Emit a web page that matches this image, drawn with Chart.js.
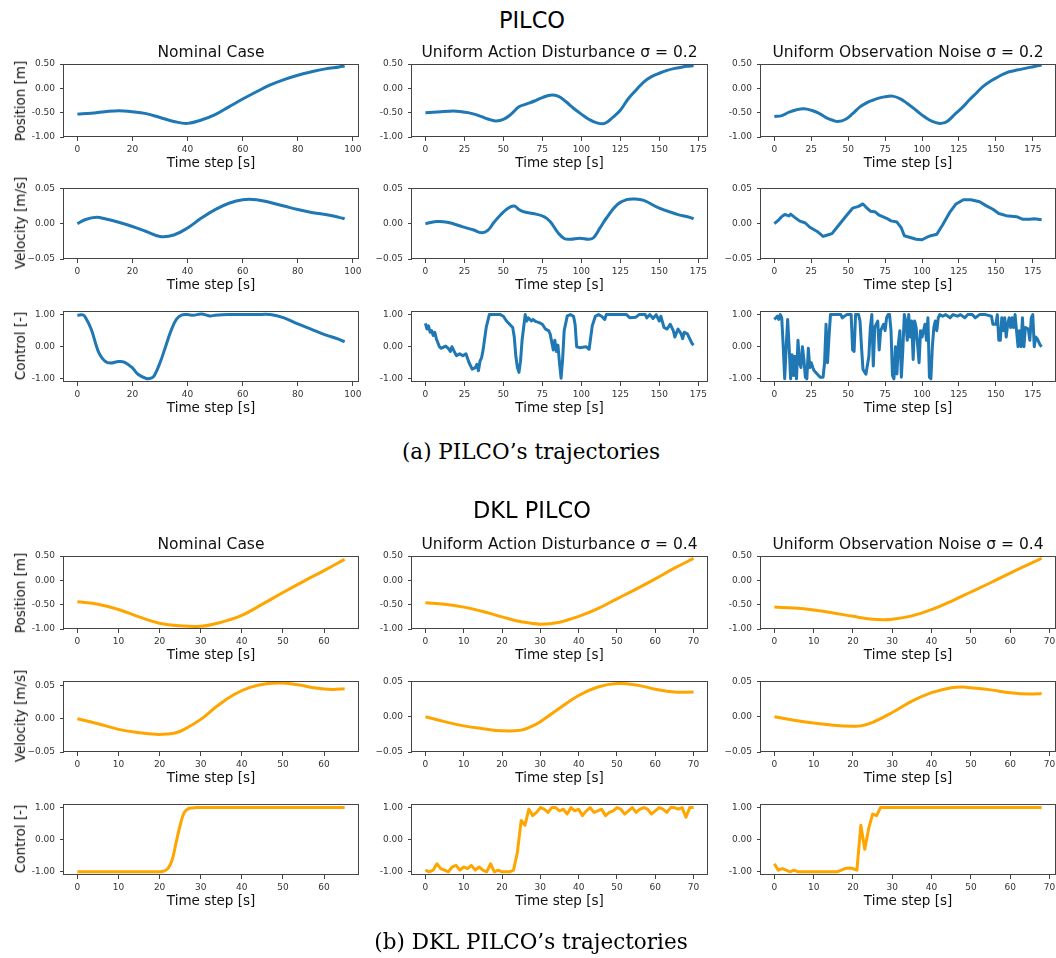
<!DOCTYPE html>
<html>
<head>
<meta charset="utf-8">
<script src="https://cdn.jsdelivr.net/npm/chart.js@4.4.0/dist/chart.umd.min.js"></script>
<style>
  body { margin: 0; background: #fff; width: 1056px; height: 958px; position: relative; overflow: hidden; font-family: "DejaVu Sans", sans-serif; }
  canvas { position: absolute; }
  .txt { position: absolute; white-space: nowrap; line-height: 1.2; color: #000; transform: translate(-50%, -50%); }
  .head { font-size: 22.5px; }
  .cap { font-family: "DejaVu Serif", serif; font-size: 21.5px; }
  .ylab { font-size: 13.5px; color: #111; transform: translate(-50%, -50%) rotate(-90deg); }
</style>
</head>
<body>
<script>
const C0 = '#1f77b4';
const ORANGE = '#ffa500';
const FONT = '"DejaVu Sans", sans-serif';

// ---------- PILCO: nominal ----------
const pNomPosT  = [0, 5, 10, 15, 20, 25, 30, 35, 40, 45, 50, 55, 60, 65, 70, 75, 80, 85, 90, 95, 97];
const pNomPos   = [-0.53, -0.51, -0.48, -0.46, -0.48, -0.52, -0.60, -0.68, -0.72, -0.65, -0.54, -0.38, -0.22, -0.07, 0.07, 0.18, 0.27, 0.34, 0.40, 0.44, 0.46];
const pNomVelT  = [0, 3, 7, 10, 15, 20, 25, 30, 35, 40, 45, 50, 55, 60, 65, 70, 75, 80, 85, 90, 95, 97];
const pNomVel   = [0, 0.006, 0.009, 0.007, 0.002, -0.004, -0.011, -0.018, -0.016, -0.006, 0.008, 0.020, 0.029, 0.034, 0.034, 0.030, 0.025, 0.020, 0.016, 0.013, 0.009, 0.007];
const pNomCtrlT = [0, 2, 3, 5, 7, 8, 10, 12, 15, 17, 20, 22, 25, 27, 28, 30, 32, 34, 36, 38, 40, 42, 45, 48, 50, 55, 60, 65, 70, 75, 80, 85, 90, 95, 97];
const pNomCtrl  = [0.98, 0.99, 0.9, 0.55, 0.0, -0.22, -0.45, -0.51, -0.46, -0.48, -0.66, -0.86, -0.99, -0.97, -0.89, -0.5, 0.0, 0.5, 0.86, 0.99, 1.0, 0.98, 1.02, 0.96, 0.98, 1.0, 1.0, 1.0, 1.0, 0.9, 0.71, 0.54, 0.37, 0.23, 0.15];

// ---------- PILCO: uniform action disturbance 0.2 ----------
const pActPosT  = [0, 5, 10, 15, 20, 25, 30, 35, 40, 45, 50, 55, 60, 65, 70, 75, 80, 85, 90, 95, 100, 105, 110, 115, 120, 125, 130, 135, 140, 145, 150, 155, 160, 165, 170, 172];
const pActPos   = [-0.50, -0.49, -0.48, -0.47, -0.47, -0.49, -0.52, -0.57, -0.63, -0.67, -0.64, -0.53, -0.38, -0.32, -0.26, -0.19, -0.14, -0.16, -0.27, -0.41, -0.53, -0.64, -0.71, -0.72, -0.60, -0.45, -0.22, -0.04, 0.13, 0.24, 0.31, 0.37, 0.41, 0.44, 0.46, 0.47];
const pActVelT  = [0, 7, 14, 24, 31, 36, 40, 44, 48, 53, 57, 60, 63, 69, 76, 80, 85, 89, 93, 99, 105, 108, 112, 116, 123, 129, 134, 140, 150, 161, 170, 172];
const pActVel   = [0, 0.003, 0.002, -0.0045, -0.009, -0.0127, -0.0095, 0.002, 0.012, 0.022, 0.025, 0.020, 0.017, 0.0145, 0.010, 0.003, -0.0127, -0.021, -0.022, -0.0205, -0.022, -0.0195, -0.006, 0.0077, 0.027, 0.034, 0.035, 0.033, 0.022, 0.0136, 0.0086, 0.0068];
const pActCtrlT = [0, 1, 2, 3, 4, 5, 6, 7, 9, 10, 13, 15, 16, 17, 19, 20, 22, 24, 26, 28, 30, 32, 33, 34, 35, 36, 37, 39, 41, 44, 46, 48, 50, 52, 54, 56, 57, 58, 59, 60, 61, 62, 63, 64, 65, 66, 68, 69, 71, 73, 75, 77, 79, 80, 82, 83, 84, 85, 86, 87, 88, 89, 91, 93, 95, 96, 97, 99, 103, 105, 107, 109, 111, 113, 115, 116, 120, 125, 129, 131, 135, 137, 141, 142, 144, 146, 148, 150, 151, 153, 155, 157, 159, 160, 162, 164, 165, 166, 168, 171, 172];
const pActCtrl  = [0.73, 0.55, 0.65, 0.45, 0.5, 0.35, 0.45, 0.25, 0.0, -0.05, 0.02, -0.07, -0.15, 0.0, -0.2, -0.28, -0.22, -0.28, -0.22, -0.5, -0.7, -0.65, -0.55, -0.75, -0.45, -0.35, -0.1, 0.6, 1.0, 1.0, 1.0, 1.0, 0.95, 0.8, 0.7, 0.6, 0.3, -0.3, -0.65, -0.8, -0.45, 0.2, 0.6, 1.0, 0.8, 0.9, 0.8, 0.85, 0.78, 0.75, 0.7, 0.55, 0.5, 0.4, -0.1, 0.2, -0.15, 0.05, -0.5, -0.98, -0.4, 0.5, 0.96, 1.0, 0.95, 0.7, 0.0, -0.03, 0.0, -0.08, 0.65, 0.95, 1.0, 0.95, 0.85, 1.0, 1.0, 1.0, 1.0, 0.9, 0.92, 1.0, 1.0, 0.9, 1.0, 0.88, 1.0, 0.8, 0.95, 0.6, 0.55, 0.7, 0.5, 0.3, 0.55, 0.4, 0.25, 0.45, 0.4, 0.1, 0.05];

// ---------- PILCO: uniform observation noise 0.2 ----------
const pObsPosT  = [0, 5, 10, 15, 20, 25, 30, 35, 40, 43, 48, 53, 58, 63, 67, 72, 76, 80, 85, 90, 96, 100, 105, 110, 113, 117, 123, 128, 132, 137, 141, 146, 150, 155, 159, 165, 170, 176, 181];
const pObsPos   = [-0.58, -0.56, -0.49, -0.44, -0.42, -0.45, -0.51, -0.60, -0.66, -0.68, -0.64, -0.52, -0.38, -0.29, -0.24, -0.19, -0.17, -0.16, -0.21, -0.31, -0.45, -0.55, -0.65, -0.71, -0.72, -0.68, -0.51, -0.37, -0.24, -0.09, 0.03, 0.14, 0.21, 0.29, 0.34, 0.38, 0.41, 0.45, 0.48];
const pObsVelT  = [0, 3, 5, 7, 10, 11, 14, 17, 21, 24, 29, 33, 36, 39, 43, 49, 53, 57, 60, 62, 65, 68, 71, 76, 79, 83, 86, 88, 92, 96, 100, 103, 106, 110, 114, 119, 123, 128, 133, 139, 143, 148, 152, 157, 164, 168, 173, 176, 181];
const pObsVel   = [0, 0.0055, 0.01, 0.013, 0.011, 0.0136, 0.0086, 0.004, 0.001, -0.005, -0.011, -0.018, -0.016, -0.014, -0.0036, 0.012, 0.022, 0.0245, 0.028, 0.0236, 0.0177, 0.017, 0.012, 0.0077, 0.004, 0.0023, -0.006, -0.017, -0.0195, -0.022, -0.0227, -0.0195, -0.017, -0.015, -0.0014, 0.0168, 0.028, 0.034, 0.034, 0.031, 0.026, 0.0205, 0.0145, 0.0114, 0.01, 0.0064, 0.0064, 0.007, 0.0055];
const pObsCtrlT = [0, 2, 3, 4, 5, 6, 7, 8, 9, 10, 11, 12, 13, 14, 15, 16, 17, 18, 19, 20, 21, 22, 23, 24, 25, 26, 27, 29, 31, 33, 34, 35, 36, 37, 38, 41, 45, 46, 49, 52, 53, 54, 55, 57, 58, 59, 60, 62, 64, 65, 66, 67, 68, 70, 71, 72, 74, 75, 76, 77, 78, 79, 80, 81, 82, 83, 84, 85, 86, 87, 88, 89, 90, 91, 92, 93, 94, 95, 96, 98, 99, 100, 102, 103, 104, 105, 106, 107, 108, 109, 110, 111, 112, 114, 116, 119, 121, 124, 126, 129, 131, 134, 136, 139, 143, 147, 148, 150, 151, 152, 153, 154, 155, 156, 157, 158, 159, 160, 161, 162, 163, 165, 166, 167, 168, 169, 170, 172, 173, 174, 175, 176, 177, 178, 180, 181];
const pObsCtrl  = [0.85, 0.95, 0.85, 1.0, 0.9, 0.0, -1.0, 0.0, 0.85, 0.0, -1.0, -0.25, -0.9, -0.3, -1.0, 0.2, -0.5, -0.65, 0.0, -0.4, -0.95, -1.0, -0.05, -0.65, -0.5, -0.65, -0.75, -0.85, -0.95, -0.95, -0.5, 0.7, -0.5, 0.3, 1.0, 1.0, 1.0, 0.9, 1.0, 1.0, -0.1, -0.15, 1.0, 1.0, 0.8, 0.0, -0.7, -0.86, -0.3, 0.6, 1.0, -0.6, 0.6, 0.8, -0.1, 0.5, 0.7, 0.5, 0.9, 1.0, 1.0, 0.5, -0.9, -1.0, 0.0, -0.85, 0.1, 0.5, -0.95, -0.1, 1.0, 0.8, 0.2, 1.0, 0.3, 0.8, -0.4, 0.8, 0.6, -0.5, 0.5, 0.3, 0.7, 0.2, 0.9, -0.95, -1.0, 0.0, 0.6, 0.8, 0.5, 0.9, 1.0, 0.95, 1.0, 0.9, 1.0, 0.95, 1.0, 0.9, 1.0, 1.0, 0.9, 1.0, 1.0, 0.95, 0.7, 0.7, 1.0, 0.2, 0.2, 0.9, 0.5, 0.9, 0.3, 0.7, 0.9, 0.6, 0.9, 0.6, 1.0, 0.0, 0.5, 0.0, 0.9, 0.0, 0.6, 0.55, 0.2, 0.9, 1.0, 0.0, 0.3, 0.25, 0.05, 0.0];

// ---------- DKL PILCO: nominal ----------
const dNomPosT  = [0, 5, 10, 15, 20, 25, 30, 35, 40, 45, 50, 55, 60, 65];
const dNomPos   = [-0.44, -0.49, -0.60, -0.75, -0.88, -0.935, -0.945, -0.86, -0.72, -0.49, -0.25, -0.02, 0.20, 0.43];
const dNomVelT  = [0, 5, 10, 15, 19, 22, 24, 26, 30, 34, 38, 42, 46, 50, 54, 58, 62, 65];
const dNomVel   = [0, -0.0075, -0.016, -0.021, -0.0235, -0.023, -0.021, -0.016, -0.001, 0.019, 0.036, 0.047, 0.0525, 0.0535, 0.0505, 0.046, 0.044, 0.045];
const dNomCtrl  = [-1.0, -1.0, -1.0, -1.0, -1.0, -1.0, -1.0, -1.0, -1.0, -1.0, -1.0, -1.0, -1.0, -1.0, -1.0, -1.0, -1.0, -1.0, -1.0, -1.0, -1.0, -0.98, -0.9, -0.65, -0.1, 0.45, 0.85, 0.97, 0.99, 1.0, 1.0, 1.0, 1.0, 1.0, 1.0, 1.0, 1.0, 1.0, 1.0, 1.0, 1.0, 1.0, 1.0, 1.0, 1.0, 1.0, 1.0, 1.0, 1.0, 1.0, 1.0, 1.0, 1.0, 1.0, 1.0, 1.0, 1.0, 1.0, 1.0, 1.0, 1.0, 1.0, 1.0, 1.0, 1.0, 1.0];

// ---------- DKL PILCO: uniform action disturbance 0.4 ----------
const dActPosT  = [0, 5, 10, 15, 20, 25, 30, 35, 40, 45, 50, 55, 60, 65, 70];
const dActPos   = [-0.46, -0.49, -0.55, -0.64, -0.75, -0.85, -0.90, -0.86, -0.74, -0.58, -0.38, -0.18, 0.03, 0.25, 0.45];
const dActVelT  = [0, 5, 10, 15, 20, 25, 28, 30, 35, 40, 45, 50, 55, 60, 65, 70];
const dActVel   = [0, -0.007, -0.013, -0.017, -0.02, -0.019, -0.013, -0.007, 0.012, 0.030, 0.042, 0.047, 0.045, 0.039, 0.035, 0.035];
const dActCtrl  = [-0.95, -1.0, -0.95, -0.75, -0.9, -0.95, -1.0, -0.85, -0.8, -0.95, -0.85, -0.9, -0.8, -0.95, -0.85, -0.95, -1.0, -0.75, -1.0, -0.95, -1.0, -1.0, -1.0, -0.95, -0.4, 0.6, 0.45, 0.95, 0.75, 0.85, 1.0, 0.95, 0.85, 1.0, 1.0, 0.9, 0.95, 0.8, 1.0, 0.9, 0.95, 0.75, 0.9, 1.0, 0.85, 0.9, 0.95, 0.75, 0.85, 0.9, 1.0, 0.95, 0.8, 0.9, 1.0, 0.85, 0.95, 1.0, 0.95, 0.8, 0.9, 1.0, 0.95, 0.85, 1.0, 1.0, 0.95, 1.0, 0.7, 1.0, 1.0];

// ---------- DKL PILCO: uniform observation noise 0.4 ----------
const dObsPosT  = [0, 5, 10, 15, 20, 25, 28, 30, 35, 40, 45, 50, 55, 60, 65, 68];
const dObsPos   = [-0.55, -0.57, -0.61, -0.67, -0.74, -0.80, -0.81, -0.80, -0.73, -0.60, -0.43, -0.24, -0.05, 0.15, 0.34, 0.45];
const dObsVelT  = [0, 5, 10, 15, 20, 22, 25, 30, 35, 40, 45, 48, 50, 55, 60, 65, 68];
const dObsVel   = [0, -0.005, -0.009, -0.012, -0.0135, -0.013, -0.008, 0.006, 0.022, 0.034, 0.041, 0.042, 0.041, 0.038, 0.034, 0.032, 0.033];
const dObsCtrl  = [-0.75, -0.95, -0.9, -0.95, -1.0, -0.95, -1.0, -1.0, -1.0, -1.0, -1.0, -1.0, -1.0, -1.0, -1.0, -1.0, -1.0, -0.95, -0.9, -0.88, -0.9, -0.95, 0.45, -0.3, 0.35, 0.8, 0.75, 1.0, 1.0, 1.0, 1.0, 1.0, 1.0, 1.0, 1.0, 1.0, 1.0, 1.0, 1.0, 1.0, 1.0, 1.0, 1.0, 1.0, 1.0, 1.0, 1.0, 1.0, 1.0, 1.0, 1.0, 1.0, 1.0, 1.0, 1.0, 1.0, 1.0, 1.0, 1.0, 1.0, 1.0, 1.0, 1.0, 1.0, 1.0, 1.0, 1.0, 1.0, 1.0];

// tick positions
const ticks20  = [0, 20, 40, 60, 80, 100];
const ticks25  = [0, 25, 50, 75, 100, 125, 150, 175];
const ticks10a = [0, 10, 20, 30, 40, 50, 60];
const ticks10b = [0, 10, 20, 30, 40, 50, 60, 70];
const posTicks  = [-1, -0.5, 0, 0.5];
const velTicks  = [-0.05, 0, 0.05];
const ctrlTicks = [-1, 0, 1];

const fixed2 = v => v.toFixed(2);
const minus2 = v => (v < -1e-9 ? '\u2212' + Math.abs(v).toFixed(2) : Math.abs(v).toFixed(2));

const ROWS = [
  { label: 'Position [m]',   min: -1,    max: 0.5,  ticks: posTicks,  fmt: fixed2 },
  { label: 'Velocity [m/s]', min: -0.05, max: 0.05, ticks: velTicks,  fmt: minus2 },
  { label: 'Control [-]',    min: -1.1,  max: 1.1,  ticks: ctrlTicks, fmt: fixed2 }
];

const COL_LEFT = [64, 412, 761];
const COL_W = [294, 295, 294];
const PLOT_H = 73;
const X_AXIS_H = 35;

const blocks = [
  { tops: [64, 186, 309], color: C0, cols: [
    { title: 'Nominal Case', n: 97, xTicks: ticks20,
      series: [[pNomPosT, pNomPos, true], [pNomVelT, pNomVel, true], [pNomCtrlT, pNomCtrl, true]] },
    { title: 'Uniform Action Disturbance \u03c3 = 0.2', n: 172, xTicks: ticks25,
      series: [[pActPosT, pActPos, true], [pActVelT, pActVel, true], [pActCtrlT, pActCtrl, false]] },
    { title: 'Uniform Observation Noise \u03c3 = 0.2', n: 181, xTicks: ticks25,
      series: [[pObsPosT, pObsPos, true], [pObsVelT, pObsVel, false], [pObsCtrlT, pObsCtrl, false]] }
  ]},
  { tops: [556, 679, 802], color: ORANGE, cols: [
    { title: 'Nominal Case', n: 65, xTicks: ticks10a, velMax: 0.056,
      series: [[dNomPosT, dNomPos, true], [dNomVelT, dNomVel, true], [null, dNomCtrl, true]] },
    { title: 'Uniform Action Disturbance \u03c3 = 0.4', n: 70, xTicks: ticks10b,
      series: [[dActPosT, dActPos, true], [dActVelT, dActVel, true], [null, dActCtrl, false]] },
    { title: 'Uniform Observation Noise \u03c3 = 0.4', n: 68, xTicks: ticks10b,
      series: [[dObsPosT, dObsPos, true], [dObsVelT, dObsVel, true], [null, dObsCtrl, false]] }
  ]}
];

// full box around each axes
const frame = {
  id: 'frame',
  afterDraw(chart) {
    const { ctx, chartArea: a } = chart;
    ctx.save();
    ctx.strokeStyle = '#444';
    ctx.lineWidth = 1;
    ctx.strokeRect(Math.round(a.left) - 0.5, Math.round(a.top) + 0.5,
                   Math.round(a.right - a.left) + 1, Math.round(a.bottom - a.top) - 1);
    ctx.restore();
  }
};

function addText(cls, text, x, y) {
  const d = document.createElement('div');
  d.className = 'txt ' + cls;
  d.textContent = text;
  d.style.left = x + 'px';
  d.style.top = y + 'px';
  document.body.appendChild(d);
}

function makePanel(block, ci, ri) {
  const col = block.cols[ci];
  const row = ROWS[ri];
  const [T, Y, smooth] = col.series[ri];
  const xs = T || Y.map((_, i) => i);
  const data = xs.map((x, i) => ({ x, y: Y[i] }));

  const axisW = ci === 0 ? 64 : 50;
  const padTop = ri === 0 ? 24 : 8;
  const plotTop = block.tops[ri];
  const canvas = document.createElement('canvas');
  canvas.width = axisW + COL_W[ci] + 14;
  canvas.height = padTop + PLOT_H + X_AXIS_H;
  canvas.style.left = (COL_LEFT[ci] - axisW) + 'px';
  canvas.style.top = (plotTop - padTop) + 'px';
  document.body.appendChild(canvas);

  const yMax = ri === 1 && col.velMax ? col.velMax : row.max;
  const tickGrid = { display: true, drawOnChartArea: false, drawTicks: true, tickLength: 4, color: '#444' };

  new Chart(canvas.getContext('2d'), {
    type: 'line',
    data: {
      datasets: [{
        data,
        borderColor: block.color,
        borderWidth: 3,
        pointRadius: 0,
        fill: false,
        borderJoinStyle: 'round',
        tension: smooth ? 0.4 : 0
      }]
    },
    options: {
      responsive: false,
      animation: false,
      events: [],
      layout: { padding: { left: 0, right: 14, top: ri === 0 ? 0 : 8, bottom: 0 } },
      plugins: {
        legend: { display: false },
        tooltip: { enabled: false },
        title: {
          display: ri === 0,
          text: col.title,
          fullSize: false,
          color: '#111',
          font: { family: FONT, size: 15.5, weight: 'normal', lineHeight: '18px' },
          padding: { top: 4, bottom: 2 }
        }
      },
      scales: {
        x: {
          type: 'linear',
          min: -0.05 * col.n,
          max: 1.05 * col.n,
          afterBuildTicks: s => { s.ticks = col.xTicks.map(v => ({ value: v })); },
          afterFit: s => { s.height = X_AXIS_H; },
          ticks: { autoSkip: false, maxRotation: 0, padding: 3, color: '#333',
                   font: { family: FONT, size: 9 }, callback: v => String(v) },
          grid: tickGrid,
          border: { display: false },
          title: { display: true, text: 'Time step [s]', color: '#111',
                   font: { family: FONT, size: 13.5 }, padding: { top: 0, bottom: 0 } }
        },
        y: {
          min: row.min,
          max: yMax,
          afterBuildTicks: s => { s.ticks = row.ticks.map(v => ({ value: v })); },
          afterFit: s => { s.width = axisW; },
          ticks: { padding: 5, color: '#333', font: { family: FONT, size: 9 }, callback: v => row.fmt(v) },
          grid: tickGrid,
          border: { display: false }
        }
      }
    },
    plugins: [frame]
  });

  if (ci === 0) addText('ylab', row.label, 20, plotTop + PLOT_H / 2);
}

blocks.forEach(b => b.cols.forEach((_, ci) => ROWS.forEach((_, ri) => makePanel(b, ci, ri))));

addText('head', 'PILCO', 532, 20);
addText('head', 'DKL PILCO', 532, 510);
addText('cap', '(a) PILCO\u2019s trajectories', 531, 452);
addText('cap', '(b) DKL PILCO\u2019s trajectories', 531, 942);
</script>
</body>
</html>
